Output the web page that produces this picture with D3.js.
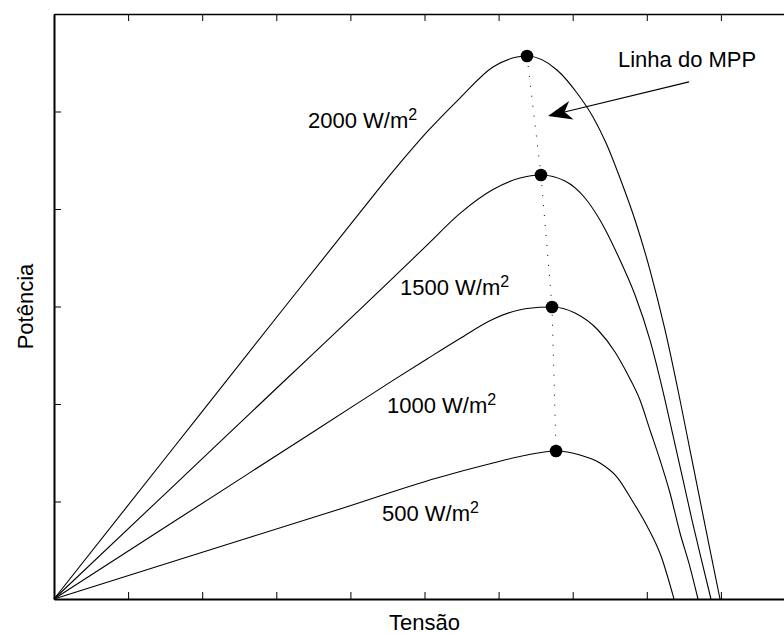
<!DOCTYPE html>
<html>
<head>
<meta charset="utf-8">
<script src="https://cdn.jsdelivr.net/npm/d3@7"></script>
<style>
  html, body { margin: 0; padding: 0; background: #fff; }
  svg { display: block; font-family: "Liberation Sans", Arial, Helvetica, sans-serif; }
</style>
</head>
<body>
<svg id="chart" width="784" height="635"></svg>
<script>
// P-V curves of a PV module for four irradiance levels (normalised units)
const irradiance = [2000, 1500, 1000, 500];

const curve2000 = [
  [0, 0], [1.525, 1.467], [3.05, 2.933], [4.13, 3.965], [4.575, 4.385],
  [5.034, 4.790], [5.479, 5.138], [5.924, 5.456], [6.248, 5.559], [6.383, 5.569],
  [6.788, 5.426], [7.058, 5.190], [7.274, 4.944], [7.450, 4.677], [7.638, 4.318],
  [7.841, 3.887], [8.043, 3.374], [8.246, 2.759], [8.448, 2.041], [8.583, 1.528],
  [8.718, 1.015], [8.853, 0.503], [8.988, 0]
];
const curve1500 = [
  [0, 0], [1.525, 1.097], [3.05, 2.195], [4.13, 2.970], [4.575, 3.294],
  [5.034, 3.630], [5.479, 3.955], [5.924, 4.200], [6.289, 4.318], [6.572, 4.349],
  [6.896, 4.287], [7.166, 4.113], [7.368, 3.887], [7.638, 3.477], [7.841, 3.118],
  [8.043, 2.656], [8.246, 2.041], [8.367, 1.631], [8.489, 1.221], [8.610, 0.810],
  [8.745, 0.379], [8.866, 0]
];
const curve1000 = [
  [0, 0], [1.525, 0.748], [3.05, 1.495], [4.13, 2.024], [4.575, 2.242],
  [5.034, 2.462], [5.479, 2.672], [5.924, 2.870], [6.383, 2.980], [6.721, 2.995],
  [7.031, 2.933], [7.341, 2.759], [7.571, 2.533], [7.746, 2.297], [7.908, 2.041],
  [8.043, 1.733], [8.178, 1.426], [8.313, 1.087], [8.448, 0.677], [8.583, 0.328],
  [8.691, 0]
];
const curve500 = [
  [0, 0], [1.970, 0.472], [3.860, 0.923], [5.169, 1.241], [5.924, 1.395],
  [6.383, 1.477], [6.775, 1.518], [7.099, 1.477], [7.368, 1.395], [7.598, 1.251],
  [7.814, 0.995], [8.003, 0.749], [8.192, 0.441], [8.367, 0]
];

// maximum power points, one per curve
const mppPoints = [[6.383, 5.569], [6.572, 4.349], [6.721, 2.995], [6.775, 1.518]];

// axis ticks carry no labels
const xTicks = [0, 1, 2, 3, 4, 5, 6, 7, 8, 9, 10];
const yTicks = [0, 1, 2, 3, 4, 5, 6];

const xTitle = "Tensão";
const yTitle = "Potência";
const mppTitle = "Linha do MPP";

// ---------------------------------------------------------------------------
const svg = d3.select("#chart");
const plotL = 54, plotR = 795, plotT = 14, plotB = 599;

const x = d3.scaleLinear().domain([0, 10]).range([plotL, plotR]);
const y = d3.scaleLinear().domain([0, 6]).range([plotB, plotT]);

const font = 22;

// frame + inward ticks
function styleAxis(g, w) {
  g.select(".domain").attr("stroke", "#000").attr("stroke-width", w);
  g.selectAll(".tick line").attr("stroke", "#000").attr("stroke-width", 1);
  g.selectAll(".tick text").remove();
}
svg.append("g").attr("transform", `translate(0,${plotB})`)
  .call(d3.axisBottom(x).tickValues(xTicks).tickSize(-7).tickSizeOuter(0).tickFormat(""))
  .call(g => styleAxis(g, 2));
svg.append("g").attr("transform", `translate(0,${plotT})`)
  .call(d3.axisTop(x).tickValues(xTicks).tickSize(-7).tickSizeOuter(0).tickFormat(""))
  .call(g => styleAxis(g, 1.5));
svg.append("g").attr("transform", `translate(${plotL},0)`)
  .call(d3.axisLeft(y).tickValues(yTicks).tickSize(-7).tickSizeOuter(0).tickFormat(""))
  .call(g => styleAxis(g, 2));

// curves
const line = d3.line().x(d => x(d[0])).y(d => y(d[1])).curve(d3.curveMonotoneX);
const curves = [curve2000, curve1500, curve1000, curve500];
svg.append("g").selectAll("path").data(curves).join("path")
  .attr("d", line)
  .attr("fill", "none")
  .attr("stroke", "#000")
  .attr("stroke-width", 1.1);

// dotted MPP line
svg.append("path")
  .attr("d", d3.line().x(d => x(d[0])).y(d => y(d[1]))(mppPoints))
  .attr("fill", "none")
  .attr("stroke", "#000")
  .attr("stroke-width", 1)
  .attr("stroke-dasharray", "1,9");

// MPP markers
svg.append("g").selectAll("circle").data(mppPoints).join("circle")
  .attr("cx", d => x(d[0])).attr("cy", d => y(d[1])).attr("r", 6.3)
  .attr("fill", "#000");

// irradiance labels with superscript unit
const labelAnchors = [[3.428, 4.831], [4.669, 3.118], [4.494, 1.908], [4.426, 0.800]];
irradiance.forEach((g, i) => {
  const t = svg.append("text")
    .attr("x", x(labelAnchors[i][0])).attr("y", y(labelAnchors[i][1]))
    .attr("font-size", font).attr("fill", "#000");
  t.append("tspan").text(`${g} W/m`);
  t.append("tspan").attr("font-size", 16).attr("dy", -8).text("2");
});

// MPP annotation with arrow
svg.append("text")
  .attr("x", x(7.611)).attr("y", y(5.456))
  .attr("font-size", font).attr("fill", "#000")
  .text(mppTitle);

const tail = [x(8.570), y(5.303)], tip = [x(6.667), y(4.954)];
const dx = tail[0] - tip[0], dy = tail[1] - tip[1];
const len = Math.hypot(dx, dy), ux = dx / len, uy = dy / len, px = -uy, py = ux;
const headLen = 24, headHalf = 9.5, notch = 17;
svg.append("line")
  .attr("x1", tail[0]).attr("y1", tail[1])
  .attr("x2", tip[0] + ux * notch).attr("y2", tip[1] + uy * notch)
  .attr("stroke", "#000").attr("stroke-width", 1.2);
const head = [
  tip,
  [tip[0] + ux * headLen + px * headHalf, tip[1] + uy * headLen + py * headHalf],
  [tip[0] + ux * notch, tip[1] + uy * notch],
  [tip[0] + ux * headLen - px * headHalf, tip[1] + uy * headLen - py * headHalf]
];
svg.append("path")
  .attr("d", "M" + head.map(p => p.join(",")).join("L") + "Z")
  .attr("fill", "#000");

// axis titles
svg.append("text")
  .attr("x", (plotL + plotR) / 2).attr("y", 630)
  .attr("text-anchor", "middle").attr("font-size", font).attr("fill", "#000")
  .text(xTitle);
svg.append("text")
  .attr("transform", `translate(33,${(plotT + plotB) / 2}) rotate(-90)`)
  .attr("text-anchor", "middle").attr("font-size", font).attr("fill", "#000")
  .text(yTitle);
</script>
</body>
</html>
